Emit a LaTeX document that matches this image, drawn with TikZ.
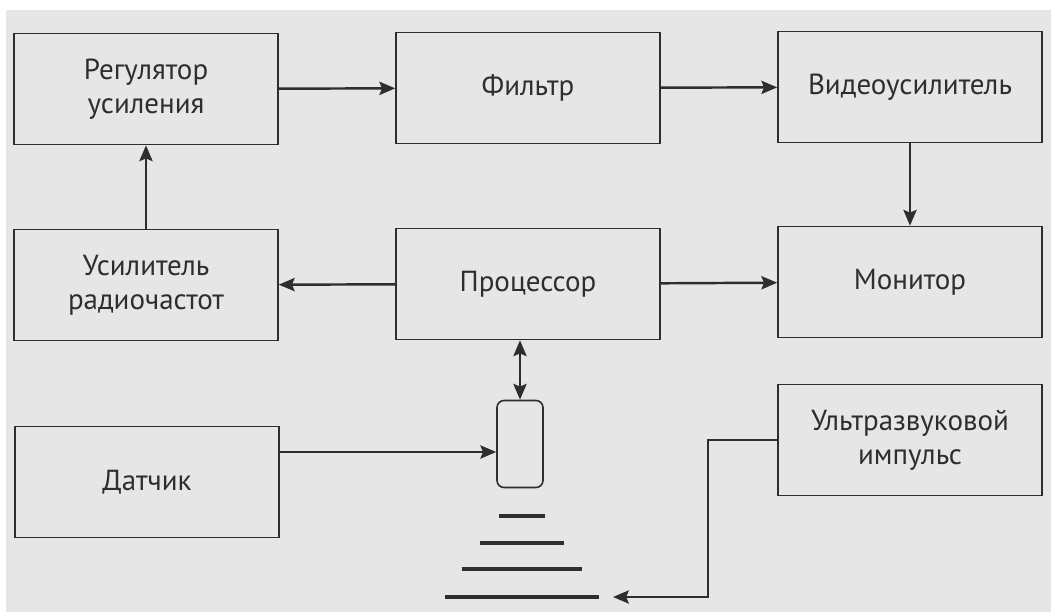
\documentclass[tikz,border=0pt]{standalone}
\usepackage{fontspec}
\setmainfont{PT Sans}
\usetikzlibrary{arrows.meta,positioning,calc}

\definecolor{ink}{HTML}{2E2E2E}
\definecolor{paper}{HTML}{E6E6E6}

\begin{document}
\begin{tikzpicture}[x=0.02cm, y=-0.02cm,
		every node/.style={font=\fontsize{16.5}{19.5}\selectfont, text=ink, align=center},
		blok/.style={draw=ink, line width=0.9pt, minimum width=5.28cm, minimum height=2.22cm},
		tip/.tip={Stealth[length=9pt,width=7.5pt,inset=1.5pt]},
		arr/.style={draw=ink, line width=1.4pt, -tip}]
			\useasboundingbox (0,0) rectangle (1051,612);
			\fill[paper] (6,10) rectangle (1051,612);
			% top row
			\node[blok] (reg) at (146,89) {Регулятор\\усиления};
			\node[blok] (filtr) at (528,88) {Фильтр};
			\node[blok] (video) at (910,87) {Видеоусилитель};
			% middle row
			\node[blok] (usil) at (146,285) {Усилитель\\радиочастот};
			\node[blok] (proc) at (528,284) {Процессор};
			\node[blok] (monitor) at (910,282) {Монитор};
			% bottom
			\node[blok] (impuls) at (910,440) {Ультразвуковой\\импульс};
			\node[blok] (datchik) at (147,482) {Датчик};
			\node[draw=ink, line width=0.9pt, rounded corners=4pt, minimum width=0.92cm, minimum height=1.74cm] (sensor) at (520,444) {};
			\foreach \y/\w in {516/23, 543/42, 569/60, 597/77} {
				\draw[ink, line width=2pt] (521.5-\w,\y) -- (521.5+\w,\y);
			}
			\coordinate (echo) at (613,597);
			% connectors
			\draw[arr] (reg) -- (filtr);
			\draw[arr] (filtr) -- (video);
			\draw[arr] (video) -- (monitor);
			\draw[arr] (usil) -- (reg);
			\draw[arr] (proc) -- (usil);
			\draw[arr] (proc) -- (monitor);
			\draw[arr, tip-tip] (sensor.north |- proc.south) -- (sensor.north);
			\draw[arr] ([yshift=0.6cm]datchik.east) -- ([yshift=0.6cm]datchik.east -| sensor.west);
			\draw[arr] (impuls.west) -- ++(-69,0) |- (echo);
		\end{tikzpicture}
\end{document}
